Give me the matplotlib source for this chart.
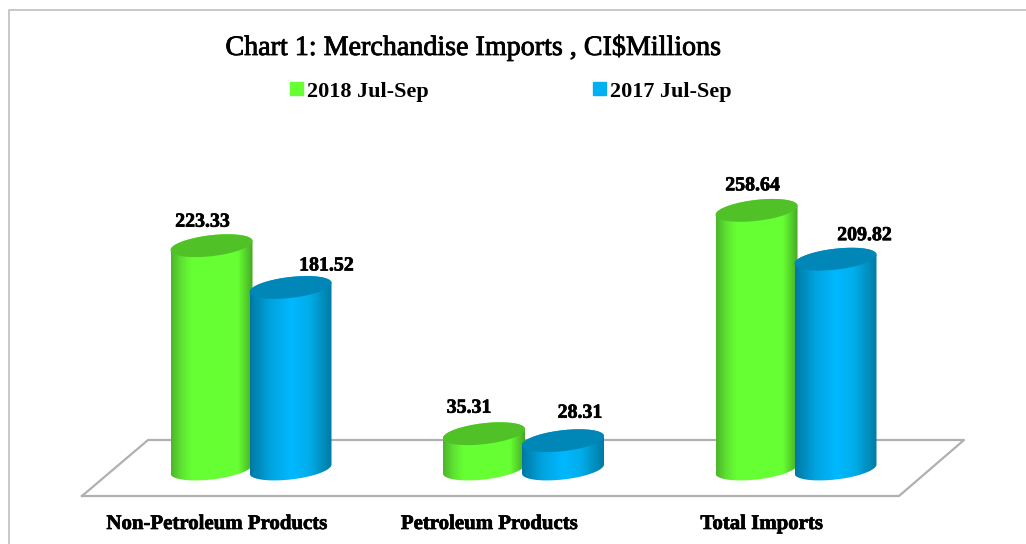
import numpy as np
import matplotlib
matplotlib.use("Agg")
import matplotlib.pyplot as plt
import matplotlib.patheffects as pe
from matplotlib.patches import Patch, PathPatch
from matplotlib.path import Path
from matplotlib.colors import LinearSegmentedColormap

categories = ["Non-Petroleum Products", "Petroleum Products", "Total Imports"]
series_2018 = [223.33, 35.31, 258.64]
series_2017 = [181.52, 28.31, 209.82]
legend_labels = ["2018 Jul-Sep", "2017 Jul-Sep"]
title = "Chart 1: Merchandise Imports , CI$Millions"

# label offsets from the top of each cylinder (px)
label_dx_2018 = [-9, -15, -4]
label_dy_2018 = [24, 26, 25]
label_dx_2017 = [36, 17, 29]
label_dy_2017 = [22, 28, 24]

plt.rcParams["font.family"] = ["Liberation Serif", "DejaVu Serif"]

group_gap = 272.5
half_w = 41 / group_gap
bar_off = 39.5 / group_gap
tilt = 4.5
semi = 10.5
heavy = [pe.withStroke(linewidth=0.5, foreground="black")]

green_cm = LinearSegmentedColormap.from_list("g", [(0, "#4db52b"), (0.12, "#5de032"), (0.25, "#66ff33"),
                                                   (0.82, "#66ff33"), (1, "#47a825")])
blue_cm = LinearSegmentedColormap.from_list("b", [(0, "#0079a3"), (0.25, "#00a4e0"), (0.5, "#00b8ff"),
                                                  (0.72, "#00aeea"), (1, "#007aa3")])


def ellipse(cx, cy, t):
    return cx + half_w * np.cos(t), cy + tilt * np.cos(t) + semi * np.sin(t)


def cylinder(ax, cx, value, cmap, top_color):
    t = np.linspace(0, 2 * np.pi, 120)
    # body outline: lower half of the base, then up the side and over the top
    lower = np.linspace(np.pi, 2 * np.pi, 60)
    upper = np.linspace(0, np.pi, 60)
    bx, by = ellipse(cx, 0, lower)
    tx, ty = ellipse(cx, value, upper)
    verts = np.r_[np.c_[bx, by], np.c_[tx, ty], [[bx[0], by[0]]]]
    body = PathPatch(Path(verts), fc="none", ec="none", transform=ax.transData)
    ax.add_patch(body)
    grad = np.linspace(0, 1, 256).reshape(1, -1)
    im = ax.imshow(grad, cmap=cmap, aspect="auto", interpolation="bilinear", zorder=2,
                   extent=(cx - half_w, cx + half_w, -20, value + 20))
    im.set_clip_path(body)
    ex, ey = ellipse(cx, value, t)
    ax.fill(ex, ey, color=top_color, lw=0, zorder=2)


fig = plt.figure(figsize=(10.26, 5.44), dpi=100)
ax = fig.add_axes([0, 0, 1, 1])

# floor of the 3d plot, drawn first so the cylinders sit on it
floor_x = np.array([82, 148, 964, 899, 82])
floor_y = np.array([496, 440, 440, 496, 496])
ax.plot((floor_x - 251) / group_gap, 469 - floor_y, color="#b0b0b0", lw=1.6, zorder=1)

for i in range(len(categories)):
    cylinder(ax, i - bar_off, series_2018[i], green_cm, "#50c228")
    cylinder(ax, i + bar_off, series_2017[i], blue_cm, "#0087b8")
    ax.text(i - bar_off + label_dx_2018[i] / group_gap, series_2018[i] + label_dy_2018[i], f"{series_2018[i]:.2f}",
            ha="center", va="center", fontsize=14.3, fontweight="bold", zorder=4, path_effects=heavy)
    ax.text(i + bar_off + label_dx_2017[i] / group_gap, series_2017[i] + label_dy_2017[i], f"{series_2017[i]:.2f}",
            ha="center", va="center", fontsize=14.3, fontweight="bold", zorder=4, path_effects=heavy)
    ax.text(i - 34 / group_gap, -55, categories[i], ha="center", va="center",
            fontsize=15, fontweight="bold", path_effects=heavy)

ax.set_xlim(-251 / group_gap, (1026 - 251) / group_gap)
ax.set_ylim(-75, 469)
ax.axis("off")

ax.text(473 / 1026, 1 - 48 / 544, title, transform=ax.transAxes, ha="center", va="center", fontsize=20.2,
        path_effects=[pe.withStroke(linewidth=0.6, foreground="black")])

handles = [Patch(color="#66ff33"), Patch(color="#00b0f0")]
ax.legend(handles, legend_labels, ncol=2, loc="center", bbox_to_anchor=(511 / 1026, 1 - 91.5 / 544), frameon=False,
          prop={"size": 16, "weight": "bold"}, handlelength=0.55, handleheight=0.55, handletextpad=0.2,
          columnspacing=7.4)

# frame round the chart, cropped on the right and bottom in the source
fig.add_artist(plt.Line2D([8.5 / 1026, 8.5 / 1026, 1], [0, 1 - 10 / 544, 1 - 10 / 544],
                          color="#c4c4c4", lw=1.3))

fig.savefig("out.png", dpi=100)
